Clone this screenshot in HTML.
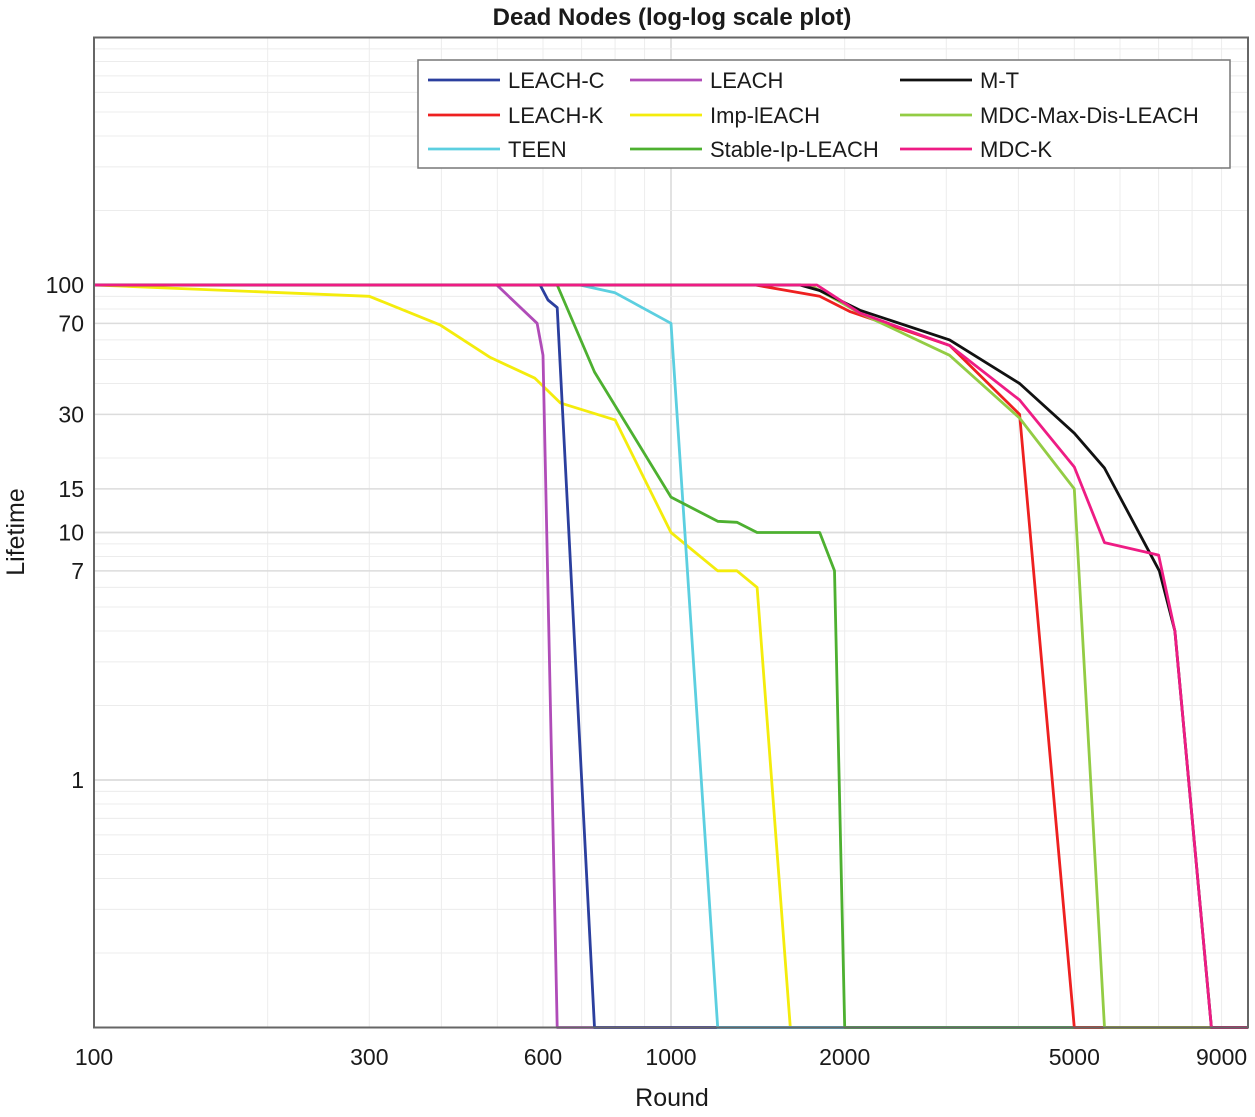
<!DOCTYPE html>
<html><head><meta charset="utf-8"><style>
body{margin:0;background:#fff;}
svg text{font-family:"Liberation Sans",Arial,sans-serif;fill:#1a1a1a;}
</style></head><body>
<svg id="chart" width="1255" height="1112" xmlns="http://www.w3.org/2000/svg">
<text x="672" y="25" font-size="24" font-weight="bold" text-anchor="middle">Dead Nodes (log-log scale plot)</text>
<g id="grid"></g>
<g id="series"></g>
<g id="axes"></g>
<text x="672" y="1106" font-size="25" text-anchor="middle">Round</text>
<text transform="translate(24,532) rotate(-90)" font-size="25" text-anchor="middle">Lifetime</text>
<g id="legend"></g>
</svg>
<script>
const xTicks=[100,300,600,1000,2000,5000,9000];
const yTicks=[100,70,30,15,10,7,1];
const seriesNames=["LEACH-C","LEACH-K","TEEN","LEACH","Imp-lEACH","Stable-Ip-LEACH","M-T","MDC-Max-Dis-LEACH","MDC-K"];
const seriesColors=["#2b3f9e","#ee2020","#5ccfe0","#b04cb8","#f4ec0c","#4db030","#111111","#93cc44","#ee1c84"];
const leachC=[[100,100],[593,100],[612,87],[635,81],[737,0.1],[10000,0.1]];
const leachK=[[100,100],[1400,100],[1810,90],[2045,78],[3040,57],[4020,30],[5000,0.1],[10000,0.1]];
const teen=[[100,100],[695,100],[800,93],[1000,70],[1205,0.1],[10000,0.1]];
const leach=[[100,100],[499,100],[586,70],[600,52],[635,0.1],[10000,0.1]];
const impLeach=[[100,100],[300,90],[398,69],[486,51],[581,42],[643,33.4],[800,28.5],[1000,10],[1205,7],[1301,7],[1410,6],[1610,0.1],[10000,0.1]];
const stableLeach=[[100,100],[635,100],[737,44.5],[1000,13.9],[1205,11.1],[1301,11],[1410,10],[1810,10],[1920,7],[2000,0.1],[10000,0.1]];
const mt=[[100,100],[1673,100],[1810,95],[2126,79],[3040,60],[4020,40],[5000,25.2],[5640,18.2],[7020,7],[7470,4],[8640,0.1],[10000,0.1]];
const mdcMax=[[100,100],[1741,100],[2126,77],[3040,52],[4020,29],[5000,15],[5640,0.1],[10000,0.1]];
const mdcK=[[100,100],[1790,100],[2126,77],[3040,57],[4020,34.3],[5000,18.4],[5640,9.1],[7000,8.1],[7470,4],[8640,0.1],[10000,0.1]];
const allSeries=[leachC,leachK,teen,leach,impLeach,stableLeach,mt,mdcMax,mdcK];
const drawOrder=[4,3,0,2,5,1,7,6,8];

const L=94,R=1248,T=37.5,B=1027.5;
const X=v=>L+(Math.log10(v)-2)/2*(R-L);
const Y=v=>B-(Math.log10(v)+1)/4*(B-T);
const NS="http://www.w3.org/2000/svg";
function mk(tag,parent,attrs){const e=document.createElementNS(NS,tag);for(const k in attrs)e.setAttribute(k,attrs[k]);parent.appendChild(e);return e;}
const grid=document.getElementById('grid'),axes=document.getElementById('axes'),ser=document.getElementById('series'),leg=document.getElementById('legend');

for(let d=2;d<4;d++)for(let m=1;m<10;m++){const v=m*Math.pow(10,d);if(v>10000)continue;const x=X(v);
 const g=mk('line',grid,{x1:x,x2:x,y1:T,y2:B,stroke:m==1?'#d8d8d8':'#ececec','stroke-width':m==1?1.5:1});
 }
for(let d=-1;d<3;d++)for(let m=1;m<10;m++){const v=m*Math.pow(10,d);const y=Y(v);
 const g=mk('line',grid,{x1:L,x2:R,y1:y,y2:y,stroke:m==1?'#d8d8d8':'#ececec','stroke-width':m==1?1.5:1});
 }
yTicks.forEach(v=>{const y=Y(v);const g=mk('line',grid,{x1:L,x2:R,y1:y,y2:y,stroke:'#dcdcdc','stroke-width':1.5});
 });

drawOrder.forEach(i=>{const pts=allSeries[i].map(p=>X(p[0]).toFixed(1)+','+Math.min(Y(p[1]),B).toFixed(1)).join(' ');
 const pl=mk('polyline',ser,{points:pts,fill:'none',stroke:seriesColors[i],'stroke-width':2.8,'stroke-linejoin':'round'});
 
 });

const box=mk('rect',axes,{x:L,y:T,width:R-L,height:B-T,fill:'none',stroke:'#666','stroke-width':2});

xTicks.forEach(v=>{const t=mk('text',axes,{x:X(v),y:1065,'font-size':23,'text-anchor':'middle'});t.textContent=v;
 });
yTicks.forEach(v=>{const t=mk('text',axes,{x:84,y:Y(v)+8,'font-size':23,'text-anchor':'end'});t.textContent=v;
 });

const lb=mk('rect',leg,{x:418,y:60,width:812,height:108,fill:'#fff',stroke:'#777','stroke-width':1.5});

const colX=[428,630,900],rowY=[80,115,149];
seriesNames.forEach((n,i)=>{const c=Math.floor(i/3),r=i%3;const x=colX[c],y=rowY[r];
 const ln=mk('line',leg,{x1:x,x2:x+72,y1:y,y2:y,stroke:seriesColors[i],'stroke-width':2.8});
 
 const t=mk('text',leg,{x:x+80,y:y+8,'font-size':22});t.textContent=n;
 });
</script>
</body></html>
